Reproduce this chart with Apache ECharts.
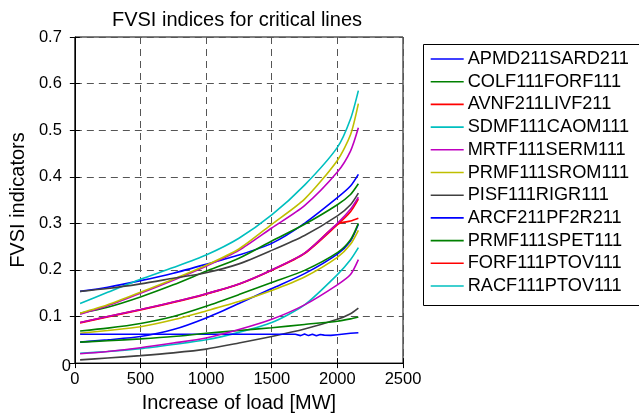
<!DOCTYPE html>
<html>
<head>
<meta charset="utf-8">
<script src="https://cdn.jsdelivr.net/npm/echarts@6/dist/echarts.min.js"></script>
<style>
html,body{margin:0;padding:0;background:#fff;}
#chart{width:639px;height:418px;}
</style>
</head>
<body>
<div id="chart"></div>
<script>
// ---- data ----
const xLoad = [40, 250, 500, 750, 1000, 1250, 1500, 1750, 2000, 2100, 2160];
const xTicks = [0, 500, 1000, 1500, 2000, 2500];
const yTicks = [0, 0.1, 0.2, 0.3, 0.4, 0.5, 0.6, 0.7];

const APMD211SARD211 = [0.154,0.163,0.177,0.193,0.212,0.232,0.257,0.300,0.355,0.380,0.405];
const COLF111FORF111 = [0.107,0.120,0.142,0.168,0.197,0.225,0.262,0.298,0.340,0.362,0.385];
const AVNF211LIVF211 = [0.087,0.100,0.115,0.131,0.149,0.170,0.200,0.236,0.298,0.305,0.311];
const SDMF111CAOM111 = [0.128,0.152,0.180,0.205,0.232,0.268,0.318,0.382,0.463,0.524,0.585];
const MRTF111SERM111 = [0.105,0.123,0.150,0.178,0.208,0.242,0.290,0.338,0.410,0.455,0.505];
const PRMF111SROM111 = [0.107,0.125,0.152,0.180,0.210,0.245,0.298,0.352,0.435,0.490,0.557];
const PISF111RIGR111 = [0.154,0.160,0.170,0.182,0.194,0.213,0.242,0.274,0.316,0.340,0.365];
const ARCF211PF2R211 = [0.045,0.050,0.057,0.072,0.097,0.128,0.160,0.192,0.234,0.262,0.298];
const PRMF111SPET111 = [0.069,0.075,0.085,0.100,0.122,0.147,0.173,0.199,0.237,0.265,0.300];
const FORF111PTOV111 = [0.086,0.099,0.114,0.130,0.148,0.169,0.199,0.235,0.297,0.325,0.352];
const RACF111PTOV111 = [0.021,0.025,0.031,0.040,0.050,0.066,0.087,0.125,0.190,0.222,0.248];
// further plotted lines (not in legend)
const extraMagentaMid = [0.087,0.100,0.115,0.131,0.149,0.170,0.200,0.236,0.300,0.330,0.356];
const extraYellowMid  = [0.064,0.070,0.078,0.093,0.112,0.132,0.156,0.185,0.227,0.255,0.285];
const extraGrayLow    = [0.007,0.011,0.016,0.022,0.030,0.043,0.057,0.073,0.094,0.106,0.118];
const extraGreenLow   = [0.045,0.048,0.052,0.057,0.064,0.070,0.076,0.083,0.090,0.095,0.099];
const extraMagentaLow = [0.020,0.025,0.033,0.043,0.054,0.072,0.094,0.125,0.168,0.190,0.222];
const xFlat = [40, 500, 1000, 1500, 1680, 1720, 1750, 1780, 1810, 1840, 1870, 1900, 1950, 2000, 2100, 2160];
const extraBlueFlat = [0.062,0.062,0.062,0.062,0.062,0.059,0.0625,0.059,0.062,0.0585,0.0615,0.060,0.0595,0.061,0.064,0.065];

const legendNames = ['APMD211SARD211','COLF111FORF111','AVNF211LIVF211','SDMF111CAOM111','MRTF111SERM111',
  'PRMF111SROM111','PISF111RIGR111','ARCF211PF2R211','PRMF111SPET111','FORF111PTOV111','RACF111PTOV111'];

const C = {b:'#0000FF', g:'#008000', r:'#FF0000', c:'#00BFBF', m:'#BF00BF', y:'#BFBF00', k:'#404040'};

const lines = [
  ['APMD211SARD211', APMD211SARD211, C.b, xLoad],
  ['COLF111FORF111', COLF111FORF111, C.g, xLoad],
  ['AVNF211LIVF211', AVNF211LIVF211, C.r, xLoad],
  ['SDMF111CAOM111', SDMF111CAOM111, C.c, xLoad],
  ['MRTF111SERM111', MRTF111SERM111, C.m, xLoad],
  ['PRMF111SROM111', PRMF111SROM111, C.y, xLoad],
  ['PISF111RIGR111', PISF111RIGR111, C.k, xLoad],
  ['ARCF211PF2R211', ARCF211PF2R211, C.b, xLoad],
  ['PRMF111SPET111', PRMF111SPET111, C.g, xLoad],
  ['FORF111PTOV111', FORF111PTOV111, C.r, xLoad],
  ['RACF111PTOV111', RACF111PTOV111, C.c, xLoad],
  ['line12', extraMagentaMid, C.m, xLoad],
  ['line13', extraYellowMid, C.y, xLoad],
  ['line14', extraGrayLow, C.k, xLoad],
  ['line15', extraBlueFlat, C.b, xFlat],
  ['line16', extraGreenLow, C.g, xLoad],
  ['line17', extraMagentaLow, C.m, xLoad]
];

const FONT = 'Liberation Sans, Arial, sans-serif';
const chart = echarts.init(document.getElementById('chart'), null, {renderer:'canvas'});

const series = lines.map(([name, ys, color, xs]) => ({
  name: name,
  type: 'line',
  xAxisIndex: 0, yAxisIndex: 0,
  data: xs.map((x, i) => [x, ys[i]]),
  showSymbol: false,
  symbol: 'none',
  smooth: xs === xFlat ? false : 0.25,
  lineStyle: {color: color, width: 1.6},
  itemStyle: {color: color},
  animation: false
}));

const gridLine = {show: true, lineStyle: {color: '#555', type: [7, 5], width: 1}};

chart.setOption({
  animation: false,
  title: {
    text: 'FVSI indices for critical lines',
    left: 232, top: 5, textAlign: 'center',
    textStyle: {fontFamily: FONT, fontSize: 20, fontWeight: 'normal', color: '#000'}
  },
  graphic: [{
    type: 'rect', silent: true, z: 0,
    shape: {x: 423.5, y: 44.5, width: 300, height: 261},
    style: {fill: '#fff', stroke: '#000', lineWidth: 1}
  }],
  legend: {
    data: legendNames,
    orient: 'vertical',
    left: 423, top: 44,
    padding: [6, 0, 5, 7.7],
    icon: 'rect',
    itemWidth: 33, itemHeight: 1.6, itemGap: 4.7,
    borderWidth: 0, z: 5,
    textStyle: {fontFamily: FONT, fontSize: 18.2, color: '#000', padding: [0,0,0,-1]},
    selectedMode: false
  },
  grid: {left: 62, right: 236, top: 37, bottom: 45, show: true, borderColor: '#000', borderWidth: 1},
  xAxis: [{
    type: 'value', min: 0, max: 2500, interval: 500,
    name: 'Increase of load [MW]', nameLocation: 'middle', nameGap: 26,
    nameTextStyle: {fontFamily: FONT, fontSize: 20, color: '#000'},
    axisLine: {show: true, onZero: false, lineStyle: {color: '#000'}},
    axisTick: {show: true, inside: true, length: 5, lineStyle: {color: '#000'}},
    axisLabel: {fontFamily: FONT, fontSize: 16.5, color: '#000', margin: 8, formatter: v => String(v)},
    splitLine: gridLine
  }, {
    type: 'value', min: 0, max: 2500, interval: 500, position: 'top',
    axisLine: {show: false}, axisLabel: {show: false}, splitLine: {show: false},
    axisTick: {show: true, inside: true, length: 5, lineStyle: {color: '#000'}}
  }],
  yAxis: [{
    type: 'value', min: 0, max: 0.7, interval: 0.1,
    name: 'FVSI indicators', nameLocation: 'middle', nameGap: 32, nameRotate: 90,
    nameTextStyle: {fontFamily: FONT, fontSize: 20, color: '#000'},
    axisLine: {show: true, onZero: false, lineStyle: {color: '#000'}},
    axisTick: {show: true, inside: true, length: 5, lineStyle: {color: '#000'}},
    axisLabel: {
      fontFamily: FONT, fontSize: 16.5, color: '#000', margin: 4,
      formatter: v => (Math.abs(v) < 1e-9 ? '{z|0}' : '{a|' + v.toFixed(1) + '}'),
      rich: {z: {fontFamily: FONT, fontSize: 16.5, color: '#000', padding: [6,0,0,0]},
             a: {fontFamily: FONT, fontSize: 16.5, color: '#000', padding: [0,9,0,0]}}
    },
    splitLine: gridLine
  }, {
    type: 'value', min: 0, max: 0.7, interval: 0.1, position: 'right',
    axisLine: {show: false}, axisLabel: {show: false}, splitLine: {show: false},
    axisTick: {show: true, inside: true, length: 5, lineStyle: {color: '#000'}}
  }],
  series: series
});
</script>
</body>
</html>
